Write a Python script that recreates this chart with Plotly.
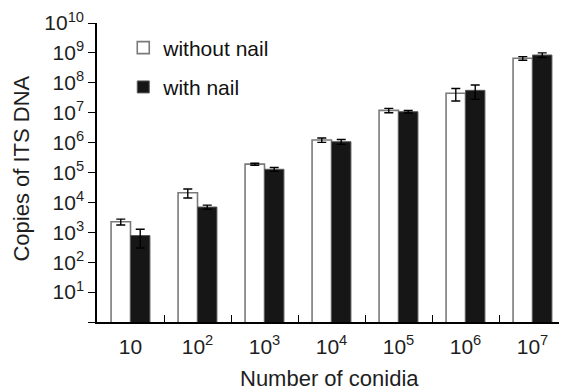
import plotly.graph_objects as go

categories = ["10", "10<sup>2</sup>", "10<sup>3</sup>", "10<sup>4</sup>",
              "10<sup>5</sup>", "10<sup>6</sup>", "10<sup>7</sup>"]
without_nail = [2250, 21000, 1.9e5, 1.22e6, 1.2e7, 4.45e7, 6.6e8]
without_nail_err = [500, 7000, 1.5e4, 2e5, 2e6, 2e7, 9e7]
with_nail = [780, 7000, 1.28e5, 1.07e6, 1.08e7, 5.6e7, 8.5e8]
with_nail_err = [480, 1100, 1.9e4, 2e5, 1e6, 2.8e7, 1.5e8]

y_tickvals = [1, 1e1, 1e2, 1e3, 1e4, 1e5, 1e6, 1e7, 1e8, 1e9, 1e10]
y_ticktext = [""] + ["10<sup>%d</sup>" % k for k in range(1, 11)]

x_title = "Number of conidia"
y_title = "Copies of ITS DNA"

FONT = "Liberation Sans, Arial, sans-serif"
TXT = "#1e1e1e"

fig = go.Figure()
fig.add_trace(go.Bar(
    x=categories, y=without_nail, name="without nail", legendgroup="a",
    marker=dict(color="white", line=dict(color="#7a7a7a", width=1.6)),
    error_y=dict(type="data", array=without_nail_err, color="black",
                 thickness=1.4, width=4.5),
))
fig.add_trace(go.Bar(
    x=categories, y=with_nail, name="with nail", legendgroup="b",
    marker=dict(color="#161616", line=dict(color="#5a5a5a", width=1)),
    error_y=dict(type="data", array=with_nail_err, color="black",
                 thickness=1.4, width=4.5),
))

# the page body has an 8px default margin; the figure is sized to fit inside it
fig.update_layout(
    width=559, height=383,
    margin=dict(l=89, r=1, t=15, b=69, autoexpand=False),
    paper_bgcolor="white", plot_bgcolor="white",
    barmode="group", bargap=0.42, bargroupgap=0,
    font=dict(family=FONT, size=21, color=TXT),
    legend=dict(x=0.056, y=0.985, xanchor="left", yanchor="top",
                bgcolor="rgba(0,0,0,0)", tracegroupgap=9,
                font=dict(size=21, color="#111")),
    xaxis=dict(
        type="category", showline=True, linecolor="black", linewidth=1.5,
        ticks="inside", tickson="boundaries", ticklen=7, tickwidth=1.3,
        tickcolor="black", showgrid=False, zeroline=False, automargin=False,
        tickfont=dict(size=21, color=TXT), ticklabelstandoff=5,
    ),
    yaxis=dict(
        type="log", range=[0, 10], showline=True, linecolor="black",
        linewidth=1.5, ticks="outside", ticklen=7, tickwidth=1.3,
        tickcolor="black", showgrid=False, zeroline=False, automargin=False,
        tickvals=y_tickvals, ticktext=y_ticktext,
        tickfont=dict(size=21, color=TXT),
    ),
    annotations=[
        dict(text=x_title, xref="paper", yref="paper", x=0.495, y=-0.188,
             xanchor="center", yanchor="middle", showarrow=False,
             font=dict(size=22, color=TXT)),
        dict(text=y_title, xref="paper", yref="paper", x=-0.16, y=0.513,
             xanchor="center", yanchor="middle", showarrow=False,
             textangle=-90, font=dict(size=22, color=TXT)),
    ],
)

fig.write_html("out.html")
